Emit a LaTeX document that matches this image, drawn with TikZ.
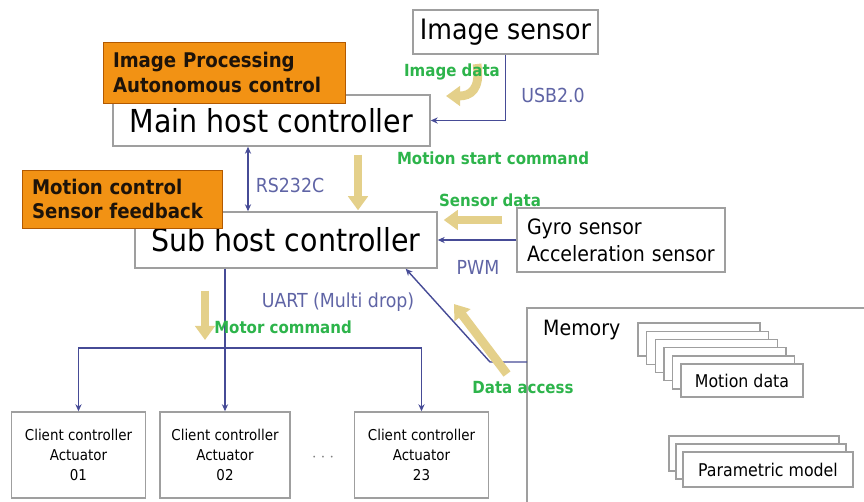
\documentclass[tikz,border=0pt]{standalone}
\usepackage{fontspec}
\setmainfont{DejaVu Sans Condensed}
\usetikzlibrary{arrows.meta,calc}
\definecolor{busblue}{RGB}{70,75,150}
\definecolor{labblue}{RGB}{95,100,165}
\definecolor{labgreen}{RGB}{45,180,75}
\definecolor{khaki}{RGB}{228,208,138}
\definecolor{tagorange}{RGB}{242,146,20}
\newcommand{\pxl}{0.02cm}

\tikzset{
  box/.style={draw=gray!75, fill=white, line width=0.8pt, inner sep=0pt},
  hostbox/.style={box, font=\fontsize{18}{20}\selectfont},
  tagbox/.style={draw=orange!70!black, fill=tagorange, line width=0.5pt, align=left,
    text=black!85!brown, font=\bfseries\fontsize{11.5}{14}\selectfont, inner sep=0pt},
  clientbox/.style={box, align=center, minimum width=134*\pxl, minimum height=86*\pxl,
    font=\fontsize{8.5}{11.5}\selectfont},
  databox/.style={box, font=\fontsize{10}{12}\selectfont},
  bus/.style={draw=busblue, line width=0.8pt},
  busarrow/.style={bus, -{Stealth[length=4pt,width=3.5pt]}},
  fatarrow/.style={draw=khaki, line width=5pt, -{Triangle[width=11pt,length=8pt]}},
  greenlab/.style={text=labgreen, font=\bfseries\fontsize{9.5}{11}\selectfont},
  bluelab/.style={text=labblue, font=\fontsize{11}{13}\selectfont}
}

\begin{document}
\begin{tikzpicture}[x=\pxl, y=-\pxl]
\useasboundingbox (0,0) rectangle (864,501);

% Host side
\node[hostbox, minimum width=185*\pxl, minimum height=44*\pxl, font=\fontsize{16}{18}\selectfont]
  (imgsensor) at (505.5,32) {Image sensor};
\node[hostbox, minimum width=317*\pxl, minimum height=51*\pxl] (mainhost) at (271.5,120.5) {Main host controller};
\node[tagbox, minimum width=242*\pxl, minimum height=61*\pxl, text width=222*\pxl]
  (tagimg) at (224,72.5) {Image Processing\\Autonomous control};
\node[hostbox, minimum width=302*\pxl, minimum height=56*\pxl] (subhost) at (286,240) {Sub host controller};
\node[tagbox, minimum width=200*\pxl, minimum height=58*\pxl, text width=180*\pxl]
  (tagmot) at (122,199) {Motion control\\Sensor feedback};
\node[box, minimum width=208*\pxl, minimum height=64*\pxl, text width=188*\pxl, align=left,
  font=\fontsize{12}{15.5}\selectfont] (gyro) at (621,240) {Gyro sensor\\Acceleration sensor};

% Clients
\node[clientbox] (client01) at (78.5,455) {Client controller\\Actuator\\01};
\node[clientbox, minimum width=130*\pxl] (client02) at (225,455) {Client controller\\Actuator\\02};
\node[clientbox] (client23) at (421.5,455) {Client controller\\Actuator\\23};
\node[text=gray, font=\fontsize{10}{12}\selectfont] (dots) at (323,458) {$\cdot\cdot\cdot$};

% Memory
\draw[draw=gray!75, line width=0.8pt] (880,308) -- (527,308) -- (527,520);
\node[font=\fontsize{12}{14}\selectfont, anchor=west] (memory) at (537,330) {Memory};
\foreach \k in {5,4,...,1}
  \node[databox, minimum width=122*\pxl, minimum height=33*\pxl] (mot\k) at ({742-8.6*\k},{380.5-8.2*\k}) {};
\node[databox, minimum width=122*\pxl, minimum height=33*\pxl] (motion) at (742,380.5) {Motion data};
\foreach \k in {2,1}
  \node[databox, minimum width=170*\pxl, minimum height=35*\pxl] (par\k) at ({768-7*\k},{469.5-8*\k}) {};
\node[databox, minimum width=170*\pxl, minimum height=35*\pxl] (param) at (768,469.5) {Parametric model};

% Links
\coordinate (rsx) at (248,0);
\coordinate (busy) at (0,348);
\coordinate (memjoin) at (527,362);
\coordinate (bend) at (490,362);
\draw[busarrow] (imgsensor.south) |- (mainhost.east);
\draw[bus, {Stealth[length=4pt,width=3.5pt]}-{Stealth[length=4pt,width=3.5pt]}] (mainhost.south -| rsx) -- (subhost.north -| rsx);
\draw[busarrow] (gyro.west) -- (subhost.east);
\draw[busarrow] (subhost.south -| client02.north) -- (client02.north);
\draw[busarrow] (client02.north |- busy) -| (client01.north);
\draw[busarrow] (client02.north |- busy) -| (client23.north);
\draw[busarrow] (memjoin) -- (bend) -- ($(subhost.south east)+(-32,0)$);

% Data flow
\draw[fatarrow] (477,64) .. controls (481,90) and (470,96) .. (446,96);
\draw[fatarrow] ($(mainhost.south -| 358,0)+(0,8)$) -- ($(subhost.north -| 358,0)+(0,-1)$);
\draw[fatarrow] ($(gyro.west)+(-14,-20)$) -- ($(subhost.east)+(6,-20)$);
\draw[fatarrow] ($(subhost.south -| 205,0)+(0,22)$) -- ($(busy -| 205,0)+(0,-8)$);
\draw[fatarrow] (507,374) -- (454,304);

% Labels
\node[greenlab] (limg) at (452,72) {Image data};
\node[bluelab] (lusb) at (553,95) {USB2.0};
\node[bluelab] (lrs) at (290,185) {RS232C};
\node[greenlab] (lstart) at (493,158) {Motion start command};
\node[greenlab] (lsens) at (490,200) {Sensor data};
\node[bluelab] (lpwm) at (478,267) {PWM};
\node[bluelab] (luart) at (338,302) {UART (Multi drop)};
\node[greenlab] (lmotor) at (283,327) {Motor command};
\node[greenlab] (lacc) at (523,388) {Data access};
\end{tikzpicture}
\end{document}
